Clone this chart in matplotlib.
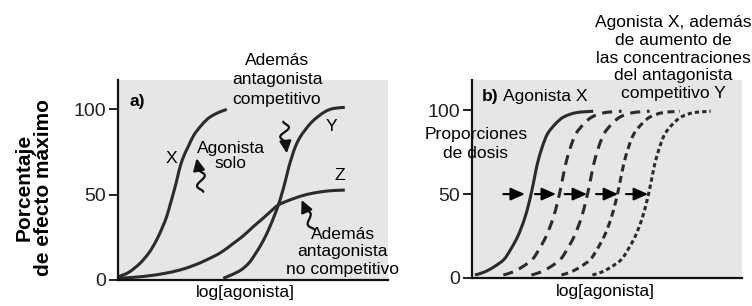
import numpy as np
import matplotlib
matplotlib.use("Agg")
import matplotlib.pyplot as plt
from matplotlib.transforms import blended_transform_factory
from matplotlib.path import Path
from matplotlib.patches import PathPatch

plt.rcParams['font.family'] = ['Liberation Sans', 'DejaVu Sans']

# ---------------- data ----------------
# Panel a: agonist alone (X), + competitive antagonist (Y), + non-competitive antagonist (Z)
x_X = [0.01, 0.40, 0.81, 1.15, 1.43, 1.65, 1.80, 1.93, 2.05, 2.18, 2.30, 2.45, 2.60, 2.80, 3.04, 3.30, 3.53, 3.80, 4.03]
y_X = [1.9, 4.5, 9.7, 16.0, 23.4, 31.0, 37.0, 44.0, 50.7, 58.5, 66.3, 73.0, 78.0, 84.5, 89.6, 94.0, 96.5, 98.5, 99.8]

x_Y = [3.90, 4.20, 4.55, 4.85, 5.10, 5.38, 5.62, 5.80, 5.94, 6.06, 6.20, 6.33, 6.45, 6.57, 6.74, 6.93, 7.15, 7.40, 7.62, 7.85, 8.10, 8.40]
y_Y = [1.0, 3.0, 5.8, 10.0, 15.6, 23.0, 31.0, 38.0, 43.9, 50.0, 58.0, 66.3, 72.5, 78.0, 83.5, 87.7, 92.0, 95.5, 98.0, 99.8, 100.6, 101.0]

x_Z = [0.00, 0.60, 1.17, 1.70, 2.28, 2.80, 3.27, 3.80, 4.27, 4.65, 5.01, 5.40, 5.75, 5.94, 6.20, 6.50, 6.80, 7.10, 7.40, 7.73, 8.05, 8.40]
y_Z = [1.0, 1.6, 2.5, 3.8, 5.8, 8.5, 11.7, 16.0, 21.4, 26.0, 31.2, 36.5, 41.5, 43.9, 45.8, 47.6, 49.2, 50.4, 51.3, 52.0, 52.4, 52.6]

# Panel b: agonist X alone, then with increasing concentrations of competitive antagonist Y
y_b = [1.8, 3.5, 6.5, 11.0, 17.0, 25.0, 35.0, 46.0, 57.0, 68.0, 78.0, 86.0, 92.0, 96.0, 98.5, 99.4]
x_b0 = [0.11, 0.45, 0.80, 1.18, 1.43, 1.70, 1.94, 2.13, 2.28, 2.42, 2.60, 2.80, 3.10, 3.40, 3.85, 4.49]
x_b1 = [1.16, 1.50, 1.85, 2.23, 2.48, 2.75, 2.99, 3.18, 3.33, 3.47, 3.65, 3.85, 4.15, 4.45, 4.90, 5.54]
x_b2 = [2.20, 2.54, 2.89, 3.27, 3.52, 3.79, 4.03, 4.22, 4.37, 4.51, 4.69, 4.89, 5.19, 5.49, 5.94, 6.58]
x_b3 = [3.31, 3.65, 4.00, 4.38, 4.63, 4.90, 5.14, 5.33, 5.48, 5.62, 5.80, 6.00, 6.30, 6.60, 7.05, 7.69]
x_b4 = [4.46, 4.80, 5.15, 5.53, 5.78, 6.05, 6.29, 6.48, 6.63, 6.77, 6.95, 7.15, 7.45, 7.75, 8.20, 8.84]

# dose-ratio arrows at 50 %
arrow_x0 = [1.16, 2.33, 3.43, 4.59, 5.70]
arrow_x1 = [1.96, 3.11, 4.26, 5.41, 6.52]
arrow_y = 50

yticks = [0, 50, 100]
ytick_labels = ["0", "50", "100"]

# ---------------- styling ----------------
BG = '#e6e6e6'
LC = '#2b2b2b'
LW = 2.2
FS = 12.6

fig = plt.figure(figsize=(7.52, 3.06), dpi=100)
W, H = 752, 306


def axes_px(l, r, t, b):
    return fig.add_axes([l / W, 1 - b / H, (r - l) / W, (b - t) / H])


axA = axes_px(118, 388, 80, 280)
axB = axes_px(472, 742, 80, 278)

for ax, ymax in ((axA, 117), (axB, 118)):
    ax.set_facecolor(BG)
    ax.set_xlim(0, 10)
    ax.set_ylim(0, ymax)
    for s in ('top', 'right'):
        ax.spines[s].set_visible(False)
    for s in ('left', 'bottom'):
        ax.spines[s].set_linewidth(1.6)
        ax.spines[s].set_color('#111111')
    ax.set_xticks([])
    ax.set_yticks(yticks)
    ax.set_yticklabels(ytick_labels)
    ax.tick_params(axis='y', length=6.5, width=1.3, pad=2, labelsize=14,
                   colors='#111111', labelcolor='#222222')


def smooth_curve(ax, xs, ys, **kw):
    """Draw a smooth curve through the given points (Catmull-Rom -> Bezier)."""
    P = np.column_stack([xs, ys]).astype(float)
    Pe = np.vstack([P[0], P, P[-1]])
    verts = [tuple(P[0])]
    codes = [Path.MOVETO]
    for i in range(len(P) - 1):
        p0, p1, p2, p3 = Pe[i], Pe[i + 1], Pe[i + 2], Pe[i + 3]
        c1 = p1 + (p2 - p0) / 6.0
        c2 = p2 - (p3 - p1) / 6.0
        verts += [tuple(c1), tuple(c2), tuple(p2)]
        codes += [Path.CURVE4] * 3
    patch = PathPatch(Path(verts, codes), fill=False, edgecolor=LC, lw=LW,
                      capstyle='butt', joinstyle='round', clip_on=False, **kw)
    ax.add_patch(patch)


def squiggle(ax, tail, head, amp=5.0, waves=1.3, lw=1.6):
    """Wavy arrow drawn in pixel space from tail to head."""
    T = ax.transData
    p0 = np.array(T.transform(tail))
    p1 = np.array(T.transform(head))
    d = p1 - p0
    L = np.hypot(*d)
    u = d / L
    nrm = np.array([-u[1], u[0]])
    t = np.linspace(0, 1, 80)
    env = np.sin(np.pi * np.clip(t / 0.8, 0, 1)) ** 0.7
    off = amp * np.sin(2 * np.pi * waves * t) * env
    pts = p0[None, :] + t[:, None] * d[None, :] * 0.8 + off[:, None] * nrm[None, :]
    dat = T.inverted().transform(pts)
    ax.plot(dat[:, 0], dat[:, 1], color='#111111', lw=lw, solid_capstyle='round', clip_on=False)
    ax.annotate('', xy=head, xytext=tuple(dat[-1]),
                arrowprops=dict(arrowstyle='-|>,head_length=0.45,head_width=0.22',
                                color='#111111', lw=lw,
                                mutation_scale=16, shrinkA=0, shrinkB=0),
                annotation_clip=False)


# ---------------- panel a ----------------
smooth_curve(axA, x_X, y_X)
smooth_curve(axA, x_Y, y_Y)
smooth_curve(axA, x_Z, y_Z)

axA.text(0.44, 104.3, 'a)', fontsize=FS, fontweight='bold', ha='left', va='center')
axA.text(1.99, 71.2, 'X', fontsize=FS, ha='center', va='center')
axA.text(7.91, 89.6, 'Y', fontsize=FS, ha='center', va='center')
axA.text(8.22, 61.4, 'Z', fontsize=FS, ha='center', va='center')
axA.text(4.17, 72.6, 'Agonista\nsolo', fontsize=FS, ha='center', va='center',
         linespacing=0.95)
axA.text(5.89, 117.0, 'Además\nantagonista\ncompetitivo', fontsize=FS, ha='center',
         va='center', linespacing=1.4, clip_on=False)
axA.text(8.33, 16.4, 'Además\nantagonista\nno competitivo', fontsize=FS, ha='center',
         va='center', linespacing=1.18, clip_on=False)

squiggle(axA, (3.16, 51.6), (2.91, 71.2), amp=6, waves=1.2)
squiggle(axA, (6.12, 92.6), (6.25, 74.1), amp=6, waves=1.2)
squiggle(axA, (7.30, 29.2), (6.80, 46.8), amp=5, waves=1.0)

trA = blended_transform_factory(axA.transData, axA.transAxes)
axA.text(4.7, -0.06, 'log[agonista]', fontsize=FS, ha='center', va='center', transform=trA)

# ---------------- panel b ----------------
smooth_curve(axB, x_b0, y_b)
for xs, ls in ((x_b1, (0, (3.3, 2.2))), (x_b2, (0, (3.3, 2.2))),
               (x_b3, (0, (2.3, 1.5))), (x_b4, (0, (1.4, 1.0)))):
    smooth_curve(axB, xs, y_b, linestyle=ls)

for a0, a1 in zip(arrow_x0, arrow_x1):
    axB.annotate('', xy=(a1, arrow_y), xytext=(a0, arrow_y),
                 arrowprops=dict(arrowstyle='-|>,head_length=0.45,head_width=0.2',
                                 color='black', lw=1.5,
                                 mutation_scale=19, shrinkA=0, shrinkB=0))

axB.text(0.36, 107.9, 'b)', fontsize=FS, fontweight='bold', ha='left', va='center')
axB.text(1.15, 107.9, 'Agonista X', fontsize=FS, ha='left', va='center')
axB.text(0.14, 79.8, 'Proporciones\nde dosis', fontsize=FS, ha='center', va='center',
         linespacing=1.35, clip_on=False)
axB.text(7.44, 131.0, 'Agonista X, además\nde aumento de\nlas concentraciones\n'
         'del antagonista\ncompetitivo Y', fontsize=FS, ha='center', va='center',
         linespacing=1.22, clip_on=False)

trB = blended_transform_factory(axB.transData, axB.transAxes)
axB.text(4.93, -0.07, 'log[agonista]', fontsize=FS, ha='center', va='center', transform=trB)

# ---------------- shared y label ----------------
fig.text(34 / W, 1 - 187 / H, 'Porcentaje\nde efecto máximo', rotation=90,
         ha='center', va='center', multialignment='center', fontsize=15,
         fontweight='bold', linespacing=1.0)

fig.savefig('out.png', dpi=100)
